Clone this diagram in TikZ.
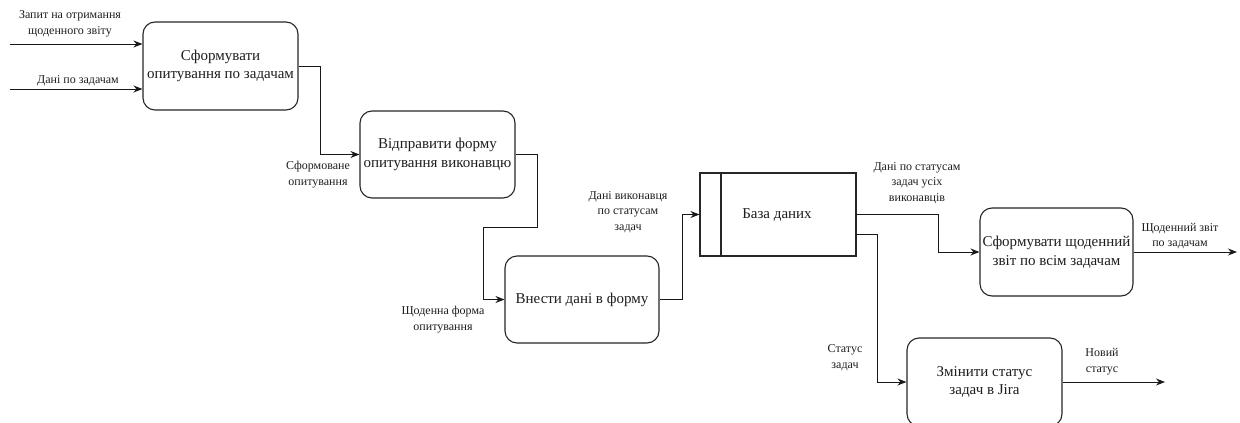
\documentclass[tikz,border=0pt]{standalone}
\usepackage{fontspec}
\setmainfont{Liberation Serif}
\usetikzlibrary{arrows.meta}
\definecolor{txt}{HTML}{1E1E1E}
\tikzset{
  proc/.style={draw=black!85, line width=1.1pt, rounded corners=12pt, fill=white,
    minimum width=155pt, minimum height=88pt, align=center, text=txt, inner sep=1pt,
    font=\fontsize{15}{18.5}\selectfont},
  lbl/.style={align=center, text=txt, inner sep=0pt, font=\fontsize{12}{15.5}\selectfont},
  flow/.style={draw=black!90, line width=1pt, -{Stealth[length=9pt,width=7pt]}},
}
\begin{document}
\begin{tikzpicture}[x=1pt,y=-1pt]
\useasboundingbox (0,0) rectangle (1240,423);
\clip (0,0) rectangle (1240,423);
% process boxes
\node[proc] (b1) at (220.5,66) {Сформувати\\опитування по задачам};
\node[proc, minimum height=87pt] (b2) at (437.5,154.5) {Відправити форму\\опитування виконавцю};
\node[proc, minimum width=154pt, minimum height=87pt] (b3) at (582,299.5) {Внести дані в форму};
\node[proc, minimum width=153pt] (b4) at (1056.5,252) {Сформувати щоденний\\звіт по всім задачам};
\node[proc] (b5) at (984.5,382) {Змінити статус\\задач в Jira};
% data store
\node[draw=black!85, line width=1.1pt, minimum width=156pt, minimum height=83pt, inner sep=0pt] (db) at (778,214.5) {};
\draw[black!85, line width=1.6pt] (721,173) -- (721,256);
\node[text=txt, font=\fontsize{15}{18.5}\selectfont] (dbt) at (777,215) {База даних};
% inputs
\coordinate (i1) at (10,44);
\coordinate (i2) at (10,89);
\draw[flow] (i1) -- (i1 -| b1.west);
\draw[flow] (i2) -- (i2 -| b1.west);
% connectors
\draw[flow] (b1.east) -- ++(22,0) |- (b2.west);
\coordinate (k1) at (537,227);
\coordinate (k2) at (483,227);
\draw[flow] (b2.east) -| (k1) -- (k2) |- (b3.west);
\draw[flow] (b3.east) -- ++(23,0) |- (db.west);
\coordinate (d1) at (856,214.5);
\coordinate (d2) at (856,234);
\draw[flow] (d1) -- (938,214.5) |- (b4.west);
\draw[flow] (d2) -- (877,234) |- (b5.west);
\coordinate (o1) at (1237,252);
\coordinate (o2) at (1165,382);
\draw[flow] (b4.east) -- (o1);
\draw[flow] (b5.east) -- (o2);
% labels
\node[lbl] (l1) at (70,24) {Запит на отримання\\щоденного звіту};
\node[lbl] (l2) at (78,81) {Дані по задачам};
\node[lbl] (l3) at (318,174.5) {Сформоване\\опитування};
\node[lbl] (l4) at (443,319.5) {Щоденна форма\\опитування};
\node[lbl] (l5) at (628,212) {Дані виконавця\\по статусам\\задач};
\node[lbl] (l6) at (917,183) {Дані по статусам\\задач усіх\\виконавців};
\node[lbl] (l7) at (1180,236) {Щоденний звіт\\по задачам};
\node[lbl] (l8) at (845,357.5) {Статус\\задач};
\node[lbl] (l9) at (1102,361.5) {Новий\\статус};
\end{tikzpicture}
\end{document}
